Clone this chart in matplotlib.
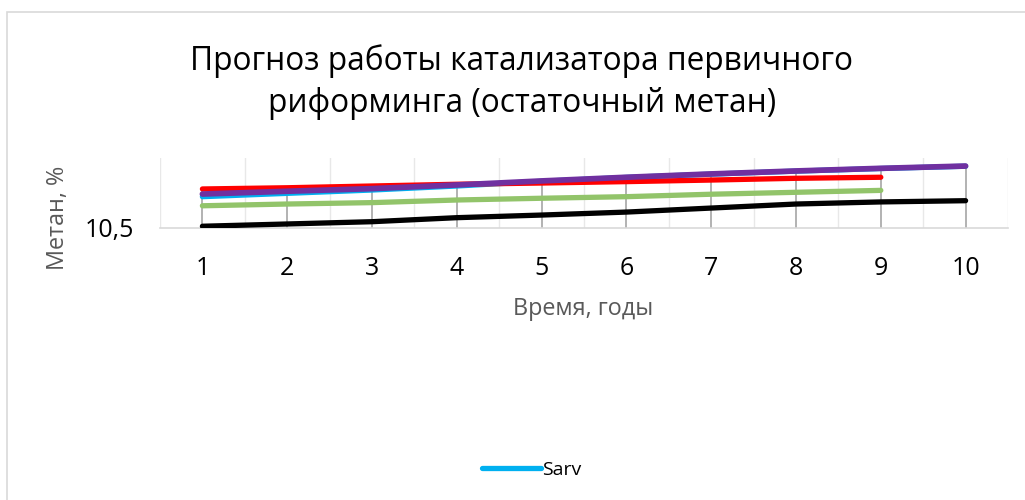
import matplotlib
matplotlib.use("Agg")
import matplotlib.pyplot as plt
from matplotlib.patches import Rectangle

plt.rcParams['font.family'] = ['Open Sans', 'DejaVu Sans']

years = [1, 2, 3, 4, 5, 6, 7, 8, 9, 10]
sarv = [10.679, 10.698, 10.717, 10.740, 10.767, 10.789, 10.808, 10.825, 10.840, 10.853]
black = [10.510, 10.523, 10.536, 10.559, 10.574, 10.591, 10.614, 10.637, 10.649, 10.656]
green = [10.627, 10.637, 10.645, 10.660, 10.670, 10.679, 10.693, 10.704, 10.715]
red = [10.723, 10.730, 10.740, 10.750, 10.757, 10.765, 10.774, 10.784, 10.790]
purple = [10.694, 10.710, 10.725, 10.746, 10.769, 10.790, 10.809, 10.826, 10.841, 10.854]

ymin, ymax = 10.5, 10.9

fig = plt.figure(figsize=(10.25, 5.0), dpi=100)
fig.patches.append(Rectangle((7 / 1025, -0.1), 1.1, (500 - 12) / 500 + 0.1,
                             transform=fig.transFigure, facecolor='white',
                             edgecolor='#d9d9d9', linewidth=1.2, zorder=-1))

ax = fig.add_axes([160 / 1025, (500 - 228) / 500, 848 / 1025, 70 / 500])
ax.set_zorder(2)
ax.patch.set_alpha(0)
ax.set_xlim(0.5, 10.5)
ax.set_ylim(ymin, ymax)

# category boundary gridlines
for b in [i + 0.5 for i in range(0, 11)]:
    ax.axvline(b, color='#e8e8e8', linewidth=1, zorder=1)

# drop lines from the highest series down to the axis
all_series = [sarv, black, green, red, purple]
for i, x in enumerate(years):
    top = max(s[i] for s in all_series if i < len(s))
    ax.plot([x, x], [ymin, top], color='#a6a6a6', linewidth=1.2, zorder=2)

lw = 3.8
sarv_line, = ax.plot(years, sarv, color='#00b0f0', linewidth=lw, solid_capstyle='round', zorder=3)
ax.plot(years, black, color='#000000', linewidth=lw, solid_capstyle='round', zorder=3)
ax.plot(years[:9], green, color='#92c46a', linewidth=lw, solid_capstyle='round', zorder=3)
ax.plot(years[:9], red, color='#ff0000', linewidth=lw, solid_capstyle='round', zorder=4)
ax.plot(years, purple, color='#7030a0', linewidth=lw + 0.3, solid_capstyle='round', zorder=5)

for s in ['top', 'right', 'left']:
    ax.spines[s].set_visible(False)
ax.spines['bottom'].set_color('#d9d9d9')
ax.spines['bottom'].set_linewidth(1.2)

ax.set_xticks(years)
ax.set_xticklabels([str(y) for y in years])
ax.set_yticks([ymin])
ax.set_yticklabels(['10,5'])
ax.tick_params(axis='both', length=0, labelsize=18, colors='#000000')
ax.tick_params(axis='x', pad=20)
ax.tick_params(axis='y', pad=19)

fig.text(583 / 1025, 1 - 309 / 500, 'Время, годы', fontsize=16.8,
         color='#595959', ha='center', va='center')
fig.text(58 / 1025, 1 - 218 / 500, 'Метан, %', rotation=90, fontsize=16.8,
         color='#595959', ha='center', va='center')

fig.text(522 / 1025, 1 - 82 / 500,
         'Прогноз работы катализатора первичного\nриформинга (остаточный метан)',
         fontsize=22.8, ha='center', va='center', color='#000000', linespacing=1.35)

fig.legend(handles=[sarv_line], labels=['Sarv'], loc='center',
           bbox_to_anchor=(532 / 1025, 1 - 470 / 500), frameon=False,
           fontsize=14, handlelength=3.0, handletextpad=0.1)

fig.savefig('out.png', dpi=100)
